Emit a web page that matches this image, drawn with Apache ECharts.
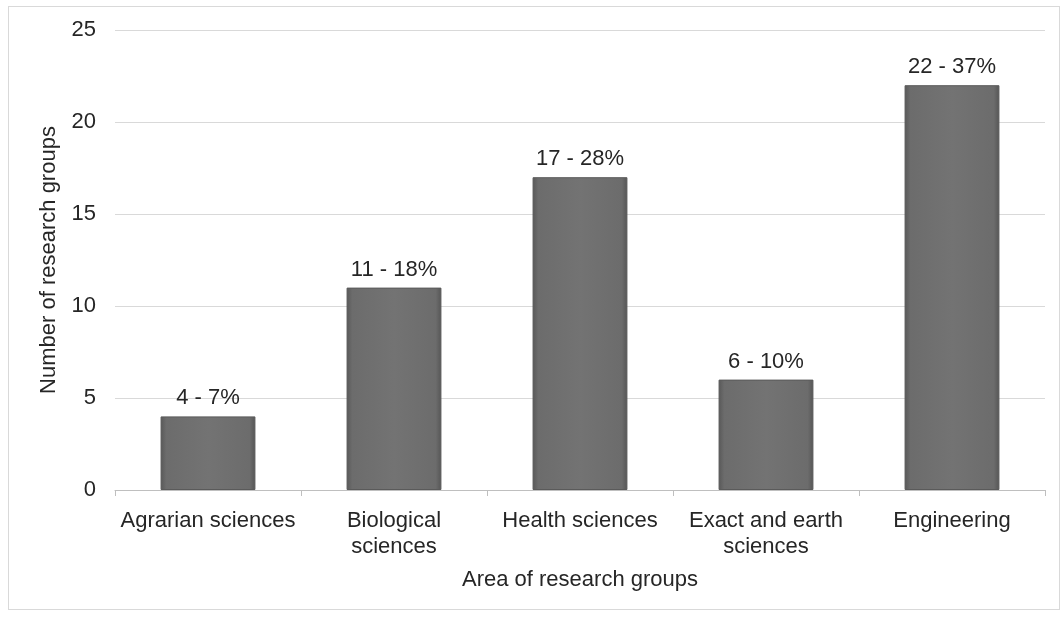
<!DOCTYPE html>
<html><head><meta charset="utf-8">
<script src="https://cdn.jsdelivr.net/npm/echarts@6/dist/echarts.min.js"></script>
<style>html,body{margin:0;padding:0;background:#fff}#c{width:1062px;height:617px}
#frame{position:absolute;left:8px;top:6px;width:1052px;height:604px;border:1px solid #d9d9d9;box-sizing:border-box;pointer-events:none}</style>
</head><body><div id="frame"></div><div id="c"></div>
<script>
const categories = ["Agrarian sciences", "Biological\nsciences", "Health sciences", "Exact and earth\nsciences", "Engineering"];
const values = [4, 11, 17, 6, 22];
const percents = ["7%", "18%", "28%", "10%", "37%"];
const yTicks = [0, 5, 10, 15, 20, 25];

const FONT = 'Liberation Sans, Arial';
const FS = 22;
const chart = echarts.init(document.getElementById('c'));
chart.setOption({
  animation: false,
  grid: { left: 115, right: 17, top: 30, bottom: 127, containLabel: false },
  xAxis: {
    type: 'category', data: categories,
    name: 'Area of research groups', nameLocation: 'middle', nameGap: 79,
    nameTextStyle: { fontFamily: FONT, fontSize: FS, color: '#262626' },
    axisLine: { lineStyle: { color: '#bfbfbf' } },
    axisTick: { show: true, interval: 0, length: 6, lineStyle: { color: '#bfbfbf' } },
    axisLabel: { interval: 0, hideOverlap: false, fontFamily: FONT, fontSize: FS, color: '#262626', margin: 18, lineHeight: 26 }
  },
  yAxis: {
    type: 'value', min: 0, max: 25, interval: 5,
    name: 'Number of research groups', nameLocation: 'middle', nameGap: 55,
    nameTextStyle: { fontFamily: FONT, fontSize: FS, color: '#262626' },
    axisLine: { show: false }, axisTick: { show: false },
    splitLine: { lineStyle: { color: '#d9d9d9' } },
    axisLabel: { fontFamily: FONT, fontSize: FS, color: '#262626', margin: 19,
      formatter: v => yTicks.includes(v) ? String(v) : '' }
  },
  series: [{
    type: 'bar', data: values, barWidth: '51%',
    itemStyle: {
      color: new echarts.graphic.LinearGradient(0, 0, 1, 0, [
        { offset: 0, color: '#585858' },
        { offset: 0.06, color: '#6c6c6c' },
        { offset: 0.5, color: '#737373' },
        { offset: 0.94, color: '#6c6c6c' },
        { offset: 1, color: '#555555' }
      ]),
      borderColor: '#5a5a5a', borderWidth: 1
    },
    label: {
      show: true, position: 'top', distance: 7,
      fontFamily: FONT, fontSize: FS, color: '#262626',
      formatter: p => p.value + ' - ' + percents[p.dataIndex]
    }
  }]
});
</script></body></html>
